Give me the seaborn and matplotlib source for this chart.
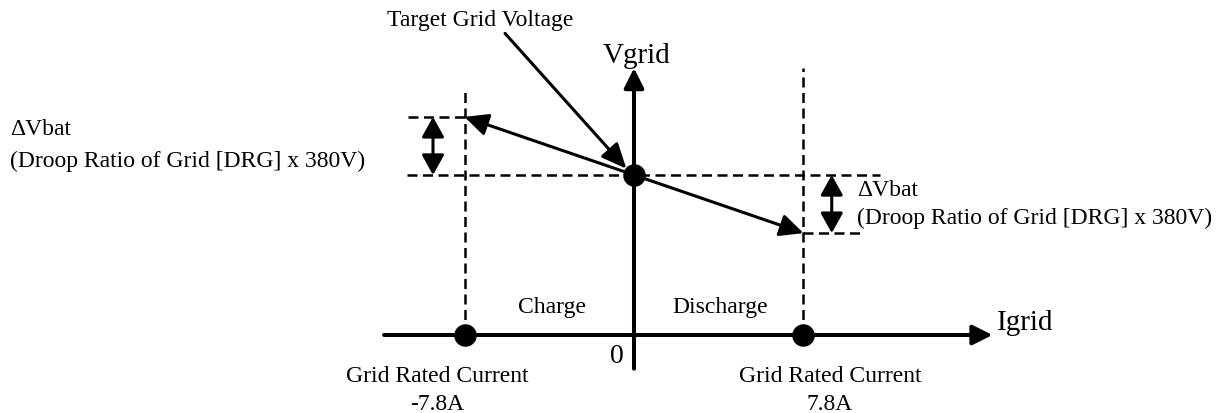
import numpy as np
import pandas as pd
import matplotlib
matplotlib.use("Agg")
import matplotlib.pyplot as plt
import seaborn as sns

# droop characteristic values (schematic units)
rated_current = 7.8          # A
v_target = 380.0             # target grid voltage
v_droop = 138.0              # schematic size of the droop step (dV bat)

dot_i = [-rated_current, rated_current, 0.0]
dot_v = [0.0, 0.0, v_target]

i_axis = [-11.5, 16.5]
v_axis = [-80.0, 634.0]
top_left_dash = 587.0
top_right_dash = 634.0
dv_arrow_i = [-9.25, 9.1]

rated_labels = ["Grid Rated Current\n-7.8A", "Grid Rated Current\n7.8A"]
dv_text = ["\u0394Vbat", "(Droop Ratio of Grid [DRG] x 380V)"]

sns.set_theme(style="white")
plt.rcParams["font.family"] = ["Liberation Serif", "DejaVu Serif"]
plt.rcParams["text.color"] = "black"

W, H = 1228, 414
sx = 21.73            # px per A
sy = 160.0 / 380.0    # px per V
x0, y0 = 634, 336     # origin in pixels

fig = plt.figure(figsize=(W / 100, H / 100), dpi=100)
ax = fig.add_axes([0, 0, 1, 1])
ax.set_xlim(-x0 / sx, (W - x0) / sx)
ax.set_ylim(-(H - y0) / sy, y0 / sy)
ax.axis("off")

fs = 17
blk = "black"


def arrow(start, end, style="-|>", ms=30, lw=2.2, hl=0.4, hw=0.2):
    ax.annotate("", xy=end, xytext=start,
                arrowprops=dict(arrowstyle=f"{style},head_length={hl},head_width={hw}",
                                mutation_scale=ms, lw=lw, color=blk,
                                shrinkA=0, shrinkB=0))


# main axes with arrows
arrow((i_axis[0], 0), (i_axis[1], 0), ms=30, lw=2.9)
arrow((0, v_axis[0]), (0, v_axis[1]), ms=30, lw=2.9)

# dashed guide lines
dash = dict(color=blk, lw=1.8, dashes=(4, 2.2))
ax.plot([-rated_current, -rated_current], [0, top_left_dash], **dash)
ax.plot([rated_current, rated_current], [0, top_right_dash], **dash)
ax.plot([-10.45, 11.3], [v_target, v_target], **dash)
ax.plot([-10.4, -rated_current], [v_target + v_droop] * 2, **dash)
ax.plot([rated_current, 10.4], [v_target - v_droop] * 2, **dash)

# droop lines
for s in (-1, 1):
    arrow((0, v_target), (s * rated_current, v_target - s * v_droop), ms=34, lw=2.2,
          hl=0.42, hw=0.2)

# dV double arrows
arrow((dv_arrow_i[0], v_target), (dv_arrow_i[0], v_target + v_droop),
      style="<|-|>", ms=34, lw=2.2, hl=0.36, hw=0.2)
arrow((dv_arrow_i[1], v_target - v_droop), (dv_arrow_i[1], v_target),
      style="<|-|>", ms=34, lw=2.2, hl=0.36, hw=0.2)

# target voltage pointer
ax.annotate("Target Grid Voltage", xy=(-0.35, v_target + 15), xytext=(-7.1, 736),
            ha="center", va="baseline", fontsize=fs,
            arrowprops=dict(arrowstyle="-|>,head_length=0.45,head_width=0.2",
                            mutation_scale=34, lw=2.2, color=blk,
                            shrinkA=0, shrinkB=0, relpos=(0.62, 0)))

# dots
dots = pd.DataFrame({"i": dot_i, "v": dot_v})
sns.scatterplot(data=dots, x="i", y="v", s=225, color=blk, edgecolor=blk, ax=ax, zorder=5)

# labels
ax.text(0.14, 648, "Vgrid", ha="center", va="baseline", fontsize=21)
ax.text(16.7, 14, "Igrid", ha="left", va="baseline", fontsize=21)
ax.text(-0.78, -64, "0", ha="center", va="baseline", fontsize=20)
ax.text(-3.77, 54, "Charge", ha="center", va="baseline", fontsize=fs)
ax.text(3.96, 54, "Discharge", ha="center", va="baseline", fontsize=fs)

for cx, lab in zip([-9.07, 9.02], rated_labels):
    l1, l2 = lab.split("\n")
    ax.text(cx, -109, l1, ha="center", va="baseline", fontsize=fs)
    ax.text(cx, -176, l2, ha="center", va="baseline", fontsize=fs)

ax.text(-28.7, 477, dv_text[0], ha="left", va="baseline", fontsize=fs)
ax.text(-28.7, 401, dv_text[1], ha="left", va="baseline", fontsize=fs)
ax.text(10.26, 332, dv_text[0], ha="left", va="baseline", fontsize=fs)
ax.text(10.26, 266, dv_text[1], ha="left", va="baseline", fontsize=fs)

fig.savefig("out.png", dpi=100, facecolor="white")
